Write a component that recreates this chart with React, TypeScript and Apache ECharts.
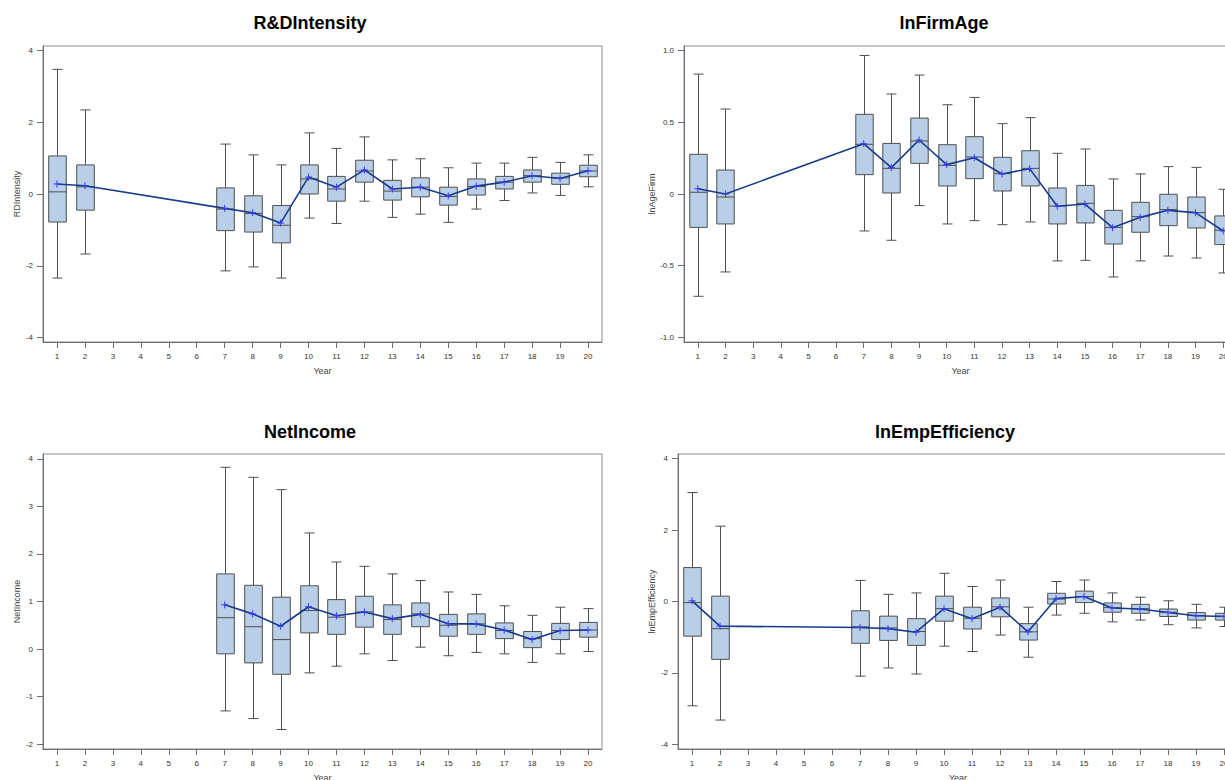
import React, { useEffect, useRef } from "react";
import * as echarts from "echarts";

// ---------- Data ----------
const titles = ["R&DIntensity", "lnFirmAge", "NetIncome", "lnEmpEfficiency"];
const yNames = ["RDIntensity", "lnAgeFirm", "NetIncome", "lnEmpEfficiency"];
const xTickYears = [1, 2, 3, 4, 5, 6, 7, 8, 9, 10, 11, 12, 13, 14, 15, 16, 17, 18, 19, 20];

// R&DIntensity
const rdYears = [1, 2, 7, 8, 9, 10, 11, 12, 13, 14, 15, 16, 17, 18, 19, 20];
const rdMin = [-2.34, -1.67, -2.14, -2.03, -2.34, -0.67, -0.82, -0.2, -0.65, -0.56, -0.79, -0.42, -0.18, 0.03, -0.04, 0.2];
const rdQ1 = [-0.78, -0.45, -1.02, -1.06, -1.36, 0.0, -0.2, 0.33, -0.17, -0.08, -0.31, -0.03, 0.14, 0.33, 0.27, 0.48];
const rdMed = [0.06, 0.2, -0.42, -0.54, -0.87, 0.42, 0.14, 0.64, 0.08, 0.19, -0.07, 0.21, 0.33, 0.51, 0.45, 0.64];
const rdQ3 = [1.06, 0.81, 0.17, -0.05, -0.32, 0.81, 0.49, 0.94, 0.38, 0.45, 0.19, 0.42, 0.49, 0.67, 0.58, 0.8];
const rdMax = [3.47, 2.34, 1.39, 1.09, 0.81, 1.7, 1.27, 1.59, 0.95, 0.98, 0.73, 0.86, 0.86, 1.02, 0.88, 1.09];
const rdMean = [0.28, 0.23, -0.4, -0.52, -0.81, 0.47, 0.19, 0.67, 0.14, 0.19, -0.05, 0.22, 0.33, 0.51, 0.43, 0.65];

// lnFirmAge
const faYears = [1, 2, 7, 8, 9, 10, 11, 12, 13, 14, 15, 16, 17, 18, 19, 20];
const faMin = [-0.714, -0.544, -0.258, -0.323, -0.081, -0.209, -0.186, -0.214, -0.195, -0.467, -0.463, -0.579, -0.467, -0.433, -0.447, -0.551];
const faQ1 = [-0.233, -0.209, 0.135, 0.007, 0.214, 0.056, 0.107, 0.021, 0.056, -0.209, -0.202, -0.349, -0.267, -0.221, -0.237, -0.353];
const faMed = [0.012, -0.021, 0.347, 0.179, 0.37, 0.2, 0.258, 0.142, 0.179, -0.084, -0.065, -0.233, -0.158, -0.109, -0.13, -0.253];
const faQ3 = [0.277, 0.167, 0.556, 0.353, 0.53, 0.344, 0.4, 0.256, 0.302, 0.042, 0.06, -0.114, -0.058, -0.002, -0.021, -0.153];
const faMax = [0.837, 0.593, 0.967, 0.698, 0.83, 0.623, 0.674, 0.491, 0.533, 0.284, 0.314, 0.105, 0.14, 0.191, 0.186, 0.033];
const faMean = [0.037, 0.0, 0.351, 0.184, 0.377, 0.205, 0.253, 0.14, 0.177, -0.086, -0.07, -0.235, -0.163, -0.114, -0.13, -0.258];

// NetIncome
const niYears = [7, 8, 9, 10, 11, 12, 13, 14, 15, 16, 17, 18, 19, 20];
const niMin = [-1.3, -1.46, -1.69, -0.5, -0.36, -0.1, -0.24, 0.04, -0.14, -0.07, -0.1, -0.28, -0.1, -0.05];
const niQ1 = [-0.1, -0.29, -0.53, 0.34, 0.31, 0.46, 0.31, 0.47, 0.27, 0.31, 0.22, 0.03, 0.2, 0.25];
const niMed = [0.66, 0.47, 0.2, 0.81, 0.67, 0.78, 0.62, 0.74, 0.5, 0.53, 0.39, 0.22, 0.39, 0.4];
const niQ3 = [1.58, 1.34, 1.09, 1.33, 1.04, 1.11, 0.93, 0.97, 0.73, 0.74, 0.55, 0.37, 0.54, 0.56];
const niMax = [3.82, 3.61, 3.35, 2.44, 1.83, 1.74, 1.58, 1.44, 1.2, 1.15, 0.91, 0.71, 0.88, 0.85];
const niMean = [0.93, 0.74, 0.48, 0.89, 0.7, 0.78, 0.64, 0.73, 0.53, 0.53, 0.4, 0.2, 0.39, 0.4];

// lnEmpEfficiency
const eeYears = [1, 2, 7, 8, 9, 10, 11, 12, 13, 14, 15, 16, 17, 18, 19, 20];
const eeMin = [-2.92, -3.32, -2.09, -1.86, -2.03, -1.25, -1.4, -0.94, -1.56, -0.38, -0.33, -0.57, -0.52, -0.65, -0.74, -0.7];
const eeQ1 = [-0.97, -1.62, -1.17, -1.09, -1.23, -0.55, -0.77, -0.43, -1.08, -0.07, -0.03, -0.3, -0.33, -0.42, -0.52, -0.52];
const eeMed = [-0.03, -0.76, -0.71, -0.74, -0.84, -0.2, -0.47, -0.15, -0.85, 0.07, 0.14, -0.17, -0.2, -0.3, -0.39, -0.41];
const eeQ3 = [0.95, 0.15, -0.26, -0.41, -0.48, 0.15, -0.16, 0.1, -0.62, 0.23, 0.29, -0.04, -0.08, -0.21, -0.31, -0.33];
const eeMax = [3.05, 2.11, 0.59, 0.2, 0.24, 0.79, 0.42, 0.6, -0.16, 0.56, 0.6, 0.24, 0.12, 0.02, -0.08, -0.16];
const eeMean = [0.02, -0.69, -0.73, -0.76, -0.86, -0.2, -0.48, -0.16, -0.85, 0.08, 0.14, -0.18, -0.21, -0.31, -0.4, -0.42];

const yTicks1 = [-4, -2, 0, 2, 4];
const yTicks2 = [-1, -0.5, 0, 0.5, 1];
const yTicks3 = [-2, -1, 0, 1, 2, 3, 4];
const yTicks4 = [-4, -2, 0, 2, 4];

// ---------- Styling ----------
const FONT = "'Liberation Sans', Arial, sans-serif";
const BOX_FILL = "#b9cfe8";
const BOX_STROKE = "#4f4f4f";
const LINE_COLOR = "#173c8c";
const MARK_COLOR = "#3a3aff";
const AXIS_COLOR = "#6e6e6e";

type Panel = {
  years: number[];
  mn: number[];
  q1: number[];
  md: number[];
  q3: number[];
  mx: number[];
  mean: number[];
  yMin: number;
  yMax: number;
  yTicks: number[];
  yFmt: (v: number) => string;
  grid: { left: number; top: number; width: number; height: number };
  nameGap: number;
  title: string;
  yName: string;
  titleX: number;
  titleY: number;
};

const panels: Panel[] = [
  {
    years: rdYears, mn: rdMin, q1: rdQ1, md: rdMed, q3: rdQ3, mx: rdMax, mean: rdMean,
    yMin: -4.12, yMax: 4.12, yTicks: yTicks1, yFmt: (v) => String(v),
    grid: { left: 43, top: 46, width: 559, height: 296 }, nameGap: 22,
    title: titles[0], yName: yNames[0], titleX: 310, titleY: 14,
  },
  {
    years: faYears, mn: faMin, q1: faQ1, md: faMed, q3: faQ3, mx: faMax, mean: faMean,
    yMin: -1.033, yMax: 1.033, yTicks: yTicks2, yFmt: (v) => (v === 0 ? "0" : v.toFixed(1)),
    grid: { left: 684, top: 46, width: 553, height: 296 }, nameGap: 27,
    title: titles[1], yName: yNames[1], titleX: 944, titleY: 14,
  },
  {
    years: niYears, mn: niMin, q1: niQ1, md: niMed, q3: niQ3, mx: niMax, mean: niMean,
    yMin: -2.1, yMax: 4.1, yTicks: yTicks3, yFmt: (v) => String(v),
    grid: { left: 43, top: 454, width: 559, height: 295 }, nameGap: 22,
    title: titles[2], yName: yNames[2], titleX: 310, titleY: 423,
  },
  {
    years: eeYears, mn: eeMin, q1: eeQ1, md: eeMed, q3: eeQ3, mx: eeMax, mean: eeMean,
    yMin: -4.13, yMax: 4.13, yTicks: yTicks4, yFmt: (v) => String(v),
    grid: { left: 678, top: 454, width: 560, height: 295 }, nameGap: 21,
    title: titles[3], yName: yNames[3], titleX: 945, titleY: 423,
  },
];

function renderBox(_params: any, api: any) {
  const x = api.value(0);
  const pMin = api.coord([x, api.value(1)]);
  const pQ1 = api.coord([x, api.value(2)]);
  const pMed = api.coord([x, api.value(3)]);
  const pQ3 = api.coord([x, api.value(4)]);
  const pMax = api.coord([x, api.value(5)]);
  const bw = api.size([0.63, 0])[0];
  const cw = api.size([0.36, 0])[0];
  const cx = Math.round(pMin[0]) + 0.5;
  const lineStyle = { stroke: BOX_STROKE, lineWidth: 1, fill: "none" };
  return {
    type: "group",
    children: [
      { type: "line", shape: { x1: cx, y1: pQ3[1], x2: cx, y2: pMax[1] }, style: lineStyle },
      { type: "line", shape: { x1: cx, y1: pQ1[1], x2: cx, y2: pMin[1] }, style: lineStyle },
      { type: "line", shape: { x1: cx - cw / 2, y1: pMax[1], x2: cx + cw / 2, y2: pMax[1] }, style: lineStyle },
      { type: "line", shape: { x1: cx - cw / 2, y1: pMin[1], x2: cx + cw / 2, y2: pMin[1] }, style: lineStyle },
      {
        type: "rect",
        shape: { x: cx - bw / 2, y: pQ3[1], width: bw, height: pQ1[1] - pQ3[1] },
        style: { fill: BOX_FILL, stroke: BOX_STROKE, lineWidth: 1 },
      },
      { type: "line", shape: { x1: cx - bw / 2, y1: pMed[1], x2: cx + bw / 2, y2: pMed[1] }, style: lineStyle },
    ],
  };
}

export default function App() {
  const ref = useRef<HTMLDivElement>(null);

  useEffect(() => {
    if (!ref.current) return;
    const chart = echarts.init(ref.current, null, { renderer: "svg" });

    const grid: any[] = [];
    const xAxis: any[] = [];
    const yAxis: any[] = [];
    const series: any[] = [];
    const title: any[] = [];

    panels.forEach((p, i) => {
      grid.push({
        ...p.grid,
        show: true,
        borderColor: "#8a8a8a",
        borderWidth: 1,
        backgroundColor: "#fff",
        containLabel: false,
        outerBoundsMode: "none",
      });
      title.push({
        text: p.title,
        left: p.titleX,
        top: p.titleY,
        padding: 0,
        textAlign: "center",
        textStyle: { fontFamily: FONT, fontSize: 18, fontWeight: "bold", color: "#000" },
      });
      xAxis.push({
        type: "value",
        gridIndex: i,
        min: 0.5,
        max: 20.5,
        name: "Year",
        nameLocation: "middle",
        nameGap: 24,
        nameTextStyle: { fontFamily: FONT, fontSize: 9, color: "#444" },
        axisLine: { show: true, onZero: false, lineStyle: { color: AXIS_COLOR } },
        axisTick: { show: true, length: 6, customValues: xTickYears, lineStyle: { color: AXIS_COLOR } },
        axisLabel: {
          customValues: xTickYears,
          fontFamily: FONT,
          fontSize: 8,
          color: "#333",
          margin: 10,
          formatter: (v: number) => String(v),
        },
        splitLine: { show: false },
      });
      yAxis.push({
        type: "value",
        gridIndex: i,
        min: p.yMin,
        max: p.yMax,
        name: p.yName,
        nameLocation: "middle",
        nameGap: p.nameGap,
        nameRotate: 90,
        nameTextStyle: { fontFamily: FONT, fontSize: 9, color: "#444" },
        axisLine: { show: true, onZero: false, lineStyle: { color: AXIS_COLOR } },
        axisTick: { show: true, length: 6, customValues: p.yTicks, lineStyle: { color: AXIS_COLOR } },
        axisLabel: {
          customValues: p.yTicks,
          fontFamily: FONT,
          fontSize: 8,
          color: "#333",
          margin: 10,
          formatter: (v: number) => p.yFmt(v),
        },
        splitLine: { show: false },
      });
      const boxData = p.years.map((y, k) => [y, p.mn[k], p.q1[k], p.md[k], p.q3[k], p.mx[k]]);
      series.push({
        type: "custom",
        xAxisIndex: i,
        yAxisIndex: i,
        renderItem: renderBox,
        encode: { x: 0, y: [1, 2, 3, 4, 5] },
        data: boxData,
        clip: true,
        z: 2,
      });
      series.push({
        type: "line",
        xAxisIndex: i,
        yAxisIndex: i,
        data: p.years.map((y, k) => [y, p.mean[k]]),
        lineStyle: { color: LINE_COLOR, width: 1.6 },
        symbol: "path://M5,0L5,10M0,5L10,5",
        symbolSize: 7,
        itemStyle: { color: "none", borderColor: MARK_COLOR, borderWidth: 1 },
        z: 3,
      });
    });

    chart.setOption({
      animation: false,
      backgroundColor: "#ffffff",
      textStyle: { fontFamily: FONT },
      title,
      grid,
      xAxis,
      yAxis,
      series,
    });

    return () => chart.dispose();
  }, []);

  return (
    <div style={{ position: "fixed", left: 0, top: 0, width: 1225, height: 780, overflow: "hidden", background: "#fff" }}>
      <div ref={ref} style={{ width: 1225, height: 780 }} />
    </div>
  );
}
